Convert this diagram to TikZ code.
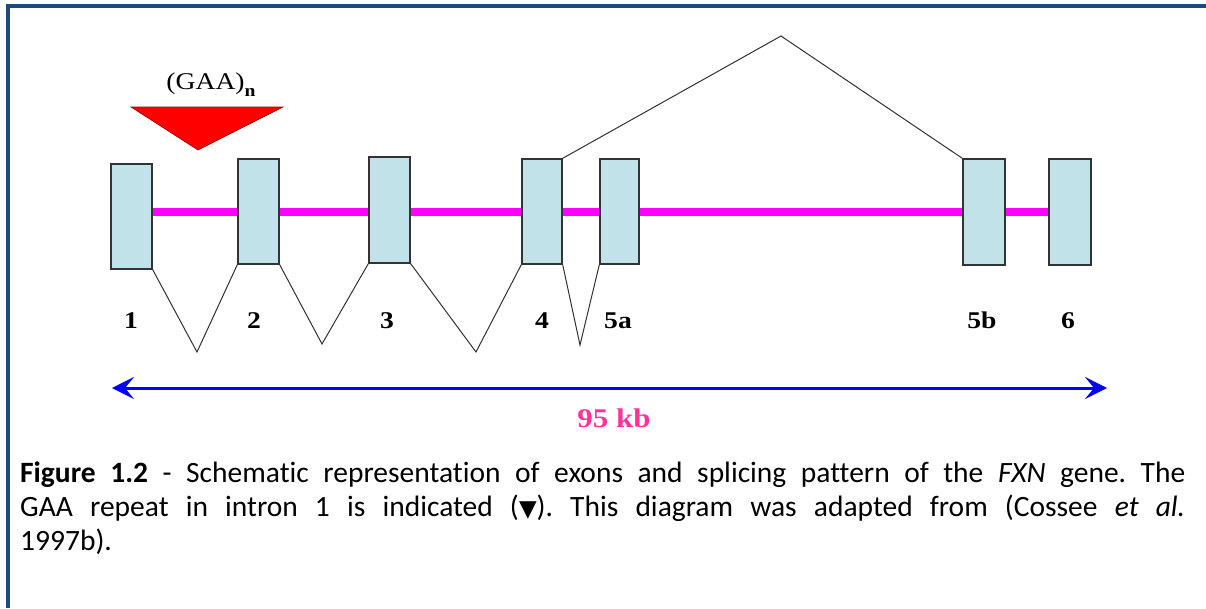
\documentclass[tikz,border=0pt]{standalone}
\usepackage{fontspec}
\setmainfont{Carlito}[Ligatures=NoCommon]
\newfontfamily\dfont[FakeStretch=1.15]{Liberation Serif}
\newfontfamily\symfont{DejaVu Sans}
\usetikzlibrary{arrows.meta,backgrounds}
\definecolor{frameblue}{RGB}{31,73,125}
\definecolor{exonfill}{RGB}{193,226,232}
\definecolor{intron}{RGB}{255,0,255}
\definecolor{kbpink}{RGB}{255,51,153}
\definecolor{splice}{RGB}{50,50,50}
\begin{document}
\begin{tikzpicture}[x=1pt,y=-1pt,
  exon/.style={draw=black!80, line width=1.4pt, fill=exonfill, minimum width=41pt, minimum height=105pt, inner sep=0pt},
  exlabel/.style={font=\dfont\bfseries\fontsize{24}{24}\selectfont, anchor=base, inner sep=0pt},
  spl/.style={draw=splice, line width=1pt},
  bigarrow/.style={draw=blue, line width=3pt, {Stealth[length=22pt,width=22pt,inset=9pt]}-{Stealth[length=22pt,width=22pt,inset=9pt]}},
]
\useasboundingbox (0,0) rectangle (1206,608);
\begin{scope}[on background layer]
  \fill[white] (0,0) rectangle (1206,608);
\end{scope}
% frame
\fill[frameblue] (6,4) rectangle (1206,8);
\fill[frameblue] (6,4) rectangle (10,608);
% exons
\node[exon, minimum width=41pt, minimum height=105pt] (e1) at (131.5,216.5) {};
\node[exon, minimum width=41pt, minimum height=105pt] (e2) at (258.5,211.5) {};
\node[exon, minimum width=41pt, minimum height=106pt] (e3) at (389.5,210) {};
\node[exon, minimum width=40pt, minimum height=105pt] (e4) at (542,211.5) {};
\node[exon, minimum width=39pt, minimum height=105pt] (e5a) at (619.5,211.5) {};
\node[exon, minimum width=42pt, minimum height=106pt] (e5b) at (984,212) {};
\node[exon, minimum width=42pt, minimum height=106pt] (e6) at (1070,212) {};
% intron line
\coordinate (row) at (0,212);
\begin{scope}[on background layer]
  \draw[intron, line width=8pt] (e1.east |- row) -- (e6.west |- row);
\end{scope}
% splicing
\coordinate (v1) at (197,352);
\coordinate (v2) at (322,344);
\coordinate (v3) at (476,352);
\coordinate (v4) at (580,345);
\coordinate (pk) at (781,36);
\draw[spl] (e1.south east) -- (v1) -- (e2.south west);
\draw[spl] (e2.south east) -- (v2) -- (e3.south west);
\draw[spl] (e3.south east) -- (v3) -- (e4.south west);
\draw[spl] (e4.south east) -- (v4) -- (e5a.south west);
\draw[spl] (e4.north east) -- (pk) -- (e5b.north west);
% GAA repeat
\filldraw[fill=red, draw=red!55!black, line width=0.6pt] (131,107) -- (283,107) -- (198,150) -- cycle;
\node[font=\dfont\fontsize{24}{24}\selectfont, anchor=base, inner sep=0pt] (gaa) at (211,89) {(GAA)\raisebox{-7pt}{\fontsize{17}{17}\selectfont\bfseries n}};
% labels
\node[exlabel] (l1) at (131,328) {1};
\node[exlabel] (l2) at (254,328) {2};
\node[exlabel] (l3) at (387,328) {3};
\node[exlabel] (l4) at (542,328) {4};
\node[exlabel] (l5a) at (618,328) {5a};
\node[exlabel] (l5b) at (982,328) {5b};
\node[exlabel] (l6) at (1068,328) {6};
% length arrow
\coordinate (al) at (112,388);
\coordinate (ar) at (1107,388);
\draw[bigarrow] (al) -- (ar);
\node[font=\dfont\bfseries\fontsize{27}{27}\selectfont, text=kbpink, anchor=base, inner sep=0pt] (kb) at (614,427) {95 kb};
% caption
\node[anchor=base west, inner sep=0pt, text width=1165pt, align=justify, font=\fontsize{29.5}{34}\selectfont\frenchspacing] (cap) at (20,482)
  {\textbf{Figure 1.2} - Schematic representation of exons and splicing pattern of the \textit{FXN} gene. The\linebreak
   GAA repeat in intron 1 is indicated ({\symfont\fontsize{23}{23}\selectfont ▼}). This diagram was adapted from (Cossee \textit{et al.}\linebreak
   1997b).};
\end{tikzpicture}
\end{document}
